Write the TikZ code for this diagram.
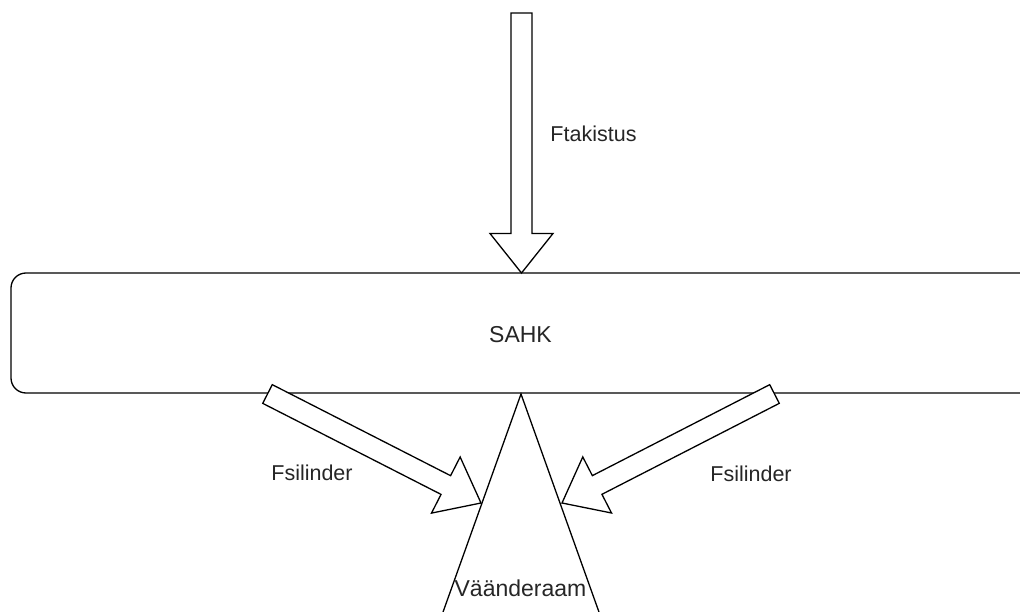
\documentclass[tikz,border=0pt]{standalone}
\usepackage{fontspec}
\setmainfont{Liberation Sans}
\usetikzlibrary{calc}
\tikzset{
  line/.style={draw=black, line width=1.3pt, line join=miter},
  lbl/.style={text=black!85, inner sep=0pt, anchor=base, font=\fontsize{21.5}{26}\selectfont},
  biglbl/.style={lbl, font=\fontsize{23}{28}\selectfont},
}
\newcommand\blockarrow[2]{%
  \coordinate (ha) at ($(#2)!39.5pt!(#1)$);
  \draw[line, fill=white]
    ($(#1)!10.5pt!-90:(#2)$) -- ($(ha)!10.5pt!-90:(#2)$) -- ($(ha)!31.5pt!-90:(#2)$)
    -- (#2) -- ($(ha)!31.5pt!90:(#2)$) -- ($(ha)!10.5pt!90:(#2)$)
    -- ($(#1)!10.5pt!90:(#2)$) -- cycle;}
\begin{document}
\begin{tikzpicture}[x=1pt, y=-1pt]
  \useasboundingbox (0,0) rectangle (1020,612);
  \clip (0,0) rectangle (1020,612);
  \fill[white] (0,0) rectangle (1020,612);
  % beam
  \draw[line, rounded corners=15pt] (1040,273) -- (11,273) -- (11,393) -- (1040,393);
  \node[biglbl] (sahk) at (520.5,342) {SAHK};
  % torsion frame triangle
  \coordinate (apex) at (521,394);
  \coordinate (bl) at (423,668);
  \coordinate (br) at (619,668);
  \draw[line] (bl) -- (apex) -- (br);
  \node[biglbl] (raam) at (520.5,596) {Väänderaam};
  % vertical force arrow
  \coordinate (ttail) at (521.5,13);
  \coordinate (ttip) at (521.5,273);
  \blockarrow{ttail}{ttip}
  \node[lbl] (ftak) at (593.5,142) {Ftakistus};
  % cylinder force arrows
  \coordinate (ltail) at (267.5,394);
  \coordinate (ltip) at (481,503);
  \blockarrow{ltail}{ltip}
  \coordinate (rtail) at (774.5,394);
  \coordinate (rtip) at (562,503);
  \blockarrow{rtail}{rtip}
  \node[lbl] (fl) at (312,480) {Fsilinder};
  \node[lbl] (fr) at (751,481) {Fsilinder};
\end{tikzpicture}
\end{document}
